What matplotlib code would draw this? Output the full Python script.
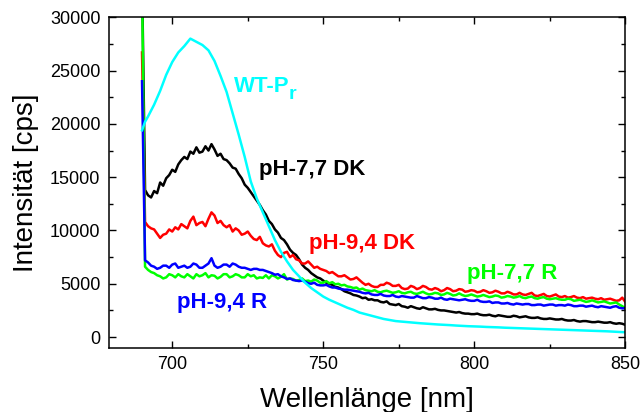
import matplotlib
matplotlib.use("Agg")
import matplotlib.pyplot as plt
from matplotlib.ticker import MultipleLocator

plt.rcParams['font.family'] = ['Liberation Sans', 'DejaVu Sans']

# Wellenlaengen der Spektren: Anstieg bei 690 nm, danach 1 nm Schritte
wl = [690, 691] + list(range(692, 851))
# WT-Pr Spektrum in 2 nm Schritten
wl_wt = [690, 691] + list(range(692, 851, 2))

wt_pr = [19400, 20200,
         20700, 21800, 23100, 24600, 25800, 26700, 27300, 28000, 27700, 27400,
         26900, 25900, 24500, 23000, 21000, 19000, 16900, 14600, 13000, 11700,
         10400, 9100, 8000, 7100, 6300, 5700, 5100, 4600, 4200, 3800,
         3500, 3250, 3000, 2750, 2550, 2300, 2150, 2000, 1850, 1700,
         1600, 1500, 1450, 1400, 1350, 1300, 1260, 1220, 1180, 1150,
         1120, 1080, 1050, 1020, 1000, 980, 950, 930, 910, 880,
         860, 840, 820, 800, 780, 760, 740, 720, 700, 680,
         660, 640, 620, 600, 580, 560, 540, 510, 480, 450]

ph77_dk = [34000, 13800,
           13300, 13100, 13700, 13500, 14500, 14200, 14900, 15200, 15700, 15500,
           16200, 16600, 16900, 16700, 17400, 17200, 17800, 17300, 17400, 17900,
           17500, 18100, 17600, 17000, 17200, 16700, 16600, 16300, 15900, 15800,
           15300, 14900, 14300, 14000, 13600, 13200, 12800, 12400, 11900, 11500,
           10900, 10600, 10100, 9800, 9300, 9100, 8700, 8200, 7900, 7700,
           7300, 6800, 6500, 6300, 6000, 5800, 5600, 5500, 5300, 5100,
           5000, 4900, 4700, 4650, 4500, 4300, 4200, 4100, 3950, 3900,
           3800, 3650, 3700, 3500, 3550, 3450, 3450, 3300, 3250, 3350,
           3100, 3050, 3000, 3100, 2900, 2850, 2750, 2900, 2800, 2700,
           2650, 2800, 2700, 2600, 2600, 2650, 2550, 2500, 2500, 2450,
           2400, 2350, 2300, 2350, 2250, 2200, 2200, 2150, 2150, 2200,
           2100, 2050, 2050, 2100, 2000, 1950, 2050, 2000, 1950, 1900,
           1900, 2000, 1950, 1850, 1900, 1950, 1850, 1800, 1800, 1850,
           1750, 1700, 1700, 1750, 1700, 1650, 1650, 1700, 1600, 1550,
           1550, 1600, 1500, 1450, 1500, 1500, 1450, 1400, 1400, 1450,
           1400, 1350, 1350, 1400, 1300, 1250, 1300, 1250, 1150]

ph94_dk = [26700, 10800,
           10400, 10200, 10100, 9700, 9300, 9600, 9700, 10100, 9900, 10300,
           10100, 10600, 10400, 10200, 10900, 11300, 10500, 10700, 10800, 10400,
           11100, 11700, 11400, 10700, 10900, 10500, 10300, 10500, 9900, 10200,
           10000, 9600, 9700, 9900, 9500, 9200, 9100, 9400, 8800, 8600,
           8500, 8700, 8100, 7700, 7500, 7900, 8000, 7500, 7700, 7300,
           7200, 6900, 6900, 7100, 6800, 6500, 6600, 6400, 6300, 6200,
           6000, 6100, 5900, 5700, 5700, 5800, 5600, 5400, 5450, 5600,
           5350, 5100, 4900, 5000, 4800, 4700, 4700, 4900, 4900, 5100,
           5000, 4800, 4800, 4900, 4600, 4500, 4550, 4800, 4700, 4500,
           4600, 4800, 4700, 4500, 4450, 4600, 4500, 4300, 4400, 4600,
           4500, 4300, 4350, 4500, 4450, 4250, 4300, 4400, 4350, 4200,
           4250, 4400, 4300, 4150, 4200, 4350, 4250, 4100, 4100, 4250,
           4150, 4000, 4000, 4150, 4000, 3950, 4050, 4150, 3900, 3850,
           3950, 4050, 3850, 3800, 3900, 4000, 3800, 3750, 3850, 3700,
           3750, 3850, 3700, 3650, 3750, 3600, 3650, 3700, 3600, 3550,
           3650, 3500, 3550, 3600, 3500, 3400, 3450, 3700, 3300]

ph77_r = [34000, 6600,
          6300, 6100, 6000, 5800, 5700, 5500, 5600, 5900, 5800, 5600,
          5900, 5700, 5600, 5900, 5700, 5500, 5900, 5700, 5800, 6000,
          5600, 5800, 5750, 5500, 5650, 5900, 5900, 5600, 5700, 5900,
          5800, 5600, 5600, 5900, 5700, 5800, 5500, 5600, 5550, 5800,
          5500, 5800, 5700, 5500, 5650, 5900, 5400, 5500, 5450, 5300,
          5350, 5500, 5250, 5300, 5200, 5400, 5300, 5100, 5100, 5250,
          5050, 5150, 4950, 5000, 4850, 4900, 4750, 4700, 4600, 4650,
          4450, 4550, 4400, 4350, 4300, 4400, 4250, 4200, 4300, 4350,
          4250, 4150, 4200, 4300, 4150, 4100, 4200, 4250, 4100, 4050,
          4150, 4250, 4100, 4000, 4050, 4150, 4100, 3950, 4000, 4150,
          4050, 3900, 3950, 4100, 3950, 3850, 3900, 4000, 3900, 3800,
          3850, 3950, 3850, 3750, 3800, 3900, 3850, 3700, 3750, 3850,
          3800, 3700, 3750, 3850, 3700, 3650, 3750, 3800, 3650, 3600,
          3700, 3750, 3600, 3550, 3600, 3650, 3550, 3500, 3500, 3600,
          3550, 3400, 3450, 3500, 3400, 3300, 3350, 3450, 3350, 3250,
          3300, 3350, 3250, 3150, 3200, 3250, 3050, 2900, 2700]

ph94_r = [24000, 7200,
          7000, 6700, 6600, 6400, 6500, 6700, 6700, 6500, 6800, 6900,
          6500, 6600, 6700, 6500, 6600, 6900, 6800, 6500, 6500, 6700,
          6900, 7400, 6700, 6500, 6600, 6800, 6800, 6600, 6900, 6800,
          6600, 6500, 6500, 6400, 6300, 6400, 6400, 6300, 6300, 6200,
          6100, 6000, 5850, 5900, 5700, 5600, 5450, 5500, 5350, 5300,
          5250, 5300, 5200, 5050, 5000, 5100, 4900, 4850, 4850, 4900,
          4750, 4650, 4650, 4550, 4500, 4450, 4450, 4400, 4350, 4300,
          4250, 4150, 4100, 4150, 4000, 3950, 3950, 4050, 3900, 3850,
          3850, 3950, 3800, 3750, 3850, 3800, 3750, 3700, 3700, 3850,
          3750, 3650, 3650, 3750, 3700, 3600, 3600, 3700, 3550, 3500,
          3600, 3550, 3500, 3450, 3500, 3550, 3450, 3400, 3400, 3500,
          3350, 3300, 3300, 3350, 3200, 3250, 3250, 3150, 3150, 3200,
          3100, 3050, 3150, 3100, 3050, 3100, 3100, 3000, 3000, 3050,
          3050, 2950, 3000, 3050, 3050, 2950, 3000, 3000, 2950, 3050,
          3000, 2900, 2900, 2950, 2950, 2850, 2900, 2950, 2850, 2800,
          2900, 2850, 2800, 2750, 2850, 2900, 2750, 2700, 2700]

fig = plt.figure(figsize=(6.4, 4.12), dpi=100)
ax = fig.add_axes([0.170, 0.156, 0.807, 0.802])

lw = 1.8
ax.plot(wl, ph77_dk, color='black', lw=lw)
ax.plot(wl, ph94_dk, color='#ff0000', lw=lw)
ax.plot(wl, ph77_r, color='#00ff00', lw=lw)
ax.plot(wl, ph94_r, color='#0000ff', lw=lw)
ax.plot(wl_wt, wt_pr, color='#00ffff', lw=lw)

ax.set_xlim(679, 850)
ax.set_ylim(-1000, 30000)
ax.xaxis.set_major_locator(MultipleLocator(50))
ax.xaxis.set_minor_locator(MultipleLocator(25))
ax.yaxis.set_major_locator(MultipleLocator(5000))
ax.yaxis.set_minor_locator(MultipleLocator(2500))
ax.tick_params(which='both', direction='in', top=True, right=True,
               labelsize=13, width=1.0)
ax.tick_params(which='major', length=5, pad=6)
ax.tick_params(which='minor', length=3)
for s in ax.spines.values():
    s.set_linewidth(1.1)

ax.set_xlabel('Wellenlänge [nm]', fontsize=20, labelpad=10)
ax.set_ylabel('Intensität [cps]', fontsize=20, labelpad=8)

kw = dict(fontsize=16, fontweight='bold', va='baseline', ha='left')
ax.text(720.3, 23030, 'WT-P', color='#00ffff', **kw)
ax.text(738.4, 22300, 'r', color='#00ffff', fontsize=14, fontweight='bold',
        va='baseline', ha='left')
ax.text(728.6, 15215, 'pH-7,7 DK', color='black', **kw)
ax.text(745.2, 8300, 'pH-9,4 DK', color='#ff0000', **kw)
ax.text(797.6, 5440, 'pH-7,7 R', color='#00ff00', **kw)
ax.text(701.7, 2750, 'pH-9,4 R', color='#0000ff', **kw)

fig.savefig('out.png', dpi=100)
